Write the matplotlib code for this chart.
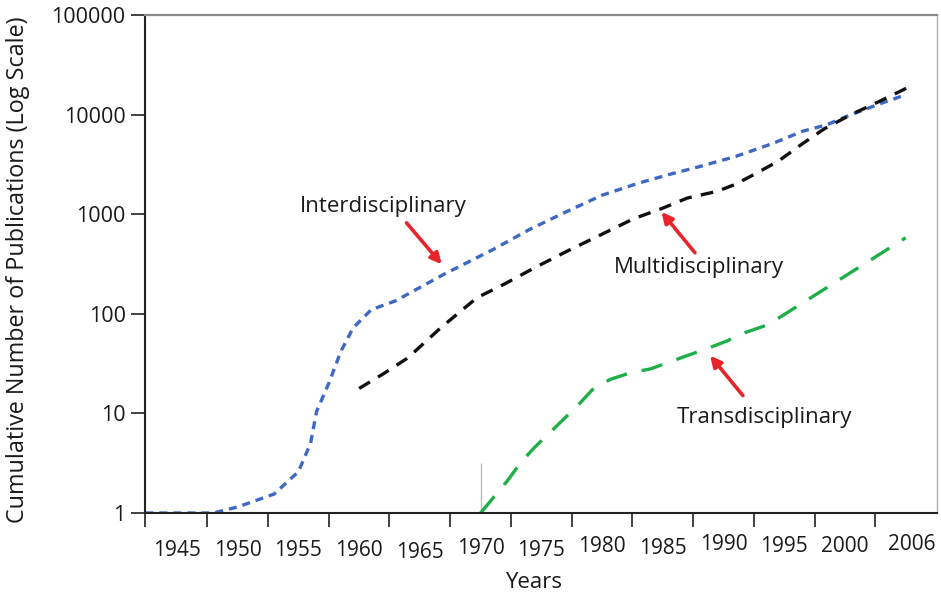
import matplotlib
matplotlib.use("Agg")
import matplotlib.pyplot as plt
import matplotlib.transforms as mtransforms

plt.rcParams['font.family'] = ['Open Sans', 'DejaVu Sans']

# ---- data ----
inter_years = [1942.4, 1948, 1950, 1953, 1955, 1956, 1956.5, 1957.5, 1958.5, 1959.5, 1961,
               1963, 1967, 1971, 1974, 1977, 1980, 1983, 1985.5, 1988, 1991, 1994, 1996.5,
               1998.5, 2000.5, 2003, 2005]
inter_vals = [1, 1, 1.15, 1.55, 2.6, 5, 10.5, 20, 42, 72, 110,
              135, 250, 440, 700, 1050, 1550, 2050, 2500, 3000, 3800, 5100, 6800,
              7900, 10000, 13000, 15800]

multi_years = [1960, 1962, 1964, 1966.7, 1969.7, 1972, 1974.4, 1977.2, 1980, 1982.6, 1985,
               1987, 1989.5, 1991, 1992.5, 1994.5, 1996.4, 1998.3, 2000.5, 2002.8, 2005.1]
multi_vals = [17.8, 25, 36, 72, 145, 200, 288, 430, 630, 900, 1150,
              1450, 1700, 2000, 2500, 3400, 5000, 7200, 10000, 13500, 18500]

trans_years = [1970, 1972.2, 1973.3, 1974.4, 1976.9, 1978, 1979.3, 1980.7, 1982.4, 1984, 1987,
               1988.7, 1990.4, 1991, 1993.7, 1996.4, 1999, 2002, 2005]
trans_vals = [1, 2.1, 3.2, 4.5, 8.9, 12, 17.8, 22, 25.7, 28, 38,
              45, 54, 60, 78, 126, 200, 340, 580]

xtick_years = [1945, 1950, 1955, 1960, 1965, 1970, 1975, 1980, 1985, 1990, 1995, 2000, 2005.5]
xtick_labels = ['1945', '1950', '1955', '1960', '1965', '1970', '1975', '1980', '1985',
                '1990', '1995', '2000', '2006']
ytick_vals = [1, 10, 100, 1000, 10000, 100000]
ytick_labels = ['1', '10', '100', '1000', '10000', '100000']

# ---- figure ----
fig = plt.figure(figsize=(9.41, 5.96), dpi=100)
ax = fig.add_axes([145 / 941, 83 / 596, 792 / 941, 498 / 596])

blue = '#3e68c4'
green = '#1faf48'
red = '#e8232a'
txt = '#1a1a1a'

ax.plot(inter_years, inter_vals, color=blue, lw=2.4, linestyle=(0, (2.4, 1.8)),
        dash_capstyle='butt')
ax.plot(multi_years, multi_vals, color='#111111', lw=2.4, linestyle=(0, (3.8, 2.8)),
        dash_capstyle='butt')
ax.plot(trans_years, trans_vals, color=green, lw=2.4, linestyle=(0, (6.5, 4.5)),
        dash_capstyle='butt')
ax.vlines(1970, 1, 3.2, color='#bdbdbd', lw=1, zorder=1)

ax.set_yscale('log')
ax.set_xlim(1942.37, 2007.58)
ax.set_ylim(1, 100000)

ax.set_yticks(ytick_vals)
ax.set_yticklabels(ytick_labels, fontsize=15.5, color=txt)
ax.yaxis.set_minor_locator(matplotlib.ticker.NullLocator())
ax.tick_params(axis='y', direction='out', length=10, width=1.2, pad=4, color='#222222')

bin_ticks = [1942.37] + [1947.5 + 5 * i for i in range(12)]
ax.set_xticks(bin_ticks)
ax.set_xticklabels([])
ax.tick_params(axis='x', direction='out', length=10, width=1.2, color='#222222')

# staggered year labels (pixel offsets below the axis)
label_drop = [37, 37, 37, 37, 39, 35, 37, 34, 35, 32, 33, 33, 31]
trans = mtransforms.blended_transform_factory(ax.transData, ax.transAxes)
for yr, lab, d in zip(xtick_years, xtick_labels, label_drop):
    ax.text(yr, 0, lab, transform=trans + mtransforms.ScaledTranslation(0, -d / 100, fig.dpi_scale_trans),
            ha='center', va='center', fontsize=15, color=txt)

ax.text(0.5, 0, 'Years', transform=ax.transAxes + mtransforms.ScaledTranslation(-0.07, -0.70, fig.dpi_scale_trans),
        ha='center', va='center', fontsize=16, color=txt)
fig.text(18 / 941, 1 - 270 / 596, 'Cumulative Number of Publications (Log Scale)', rotation=90,
         ha='center', va='center', fontsize=16.8, color=txt)

for s in ['left', 'bottom']:
    ax.spines[s].set_color('#222222')
    ax.spines[s].set_linewidth(1.5)
ax.spines['top'].set_color('#8a8a8a')
ax.spines['top'].set_linewidth(1.6)
ax.spines['right'].set_color('#b0b0b0')
ax.spines['right'].set_linewidth(1.0)

arrow = dict(arrowstyle='-|>', color=red, lw=2.6, mutation_scale=16, shrinkA=0, shrinkB=0)
ax.annotate('', xy=(1966.8, 314), xytext=(1963.9, 819), arrowprops=arrow)
ax.annotate('', xy=(1984.9, 1054), xytext=(1987.65, 410), arrowprops=arrow)
ax.annotate('', xy=(1988.9, 38), xytext=(1991.6, 15.1), arrowprops=arrow)
ax.text(1961.96, 1202, 'Interdisciplinary', ha='center', va='center', fontsize=16, color=txt)
ax.text(1988.0, 290, 'Multidisciplinary', ha='center', va='center', fontsize=16, color=txt)
ax.text(1993.4, 9.2, 'Transdisciplinary', ha='center', va='center', fontsize=16, color=txt)

fig.savefig('out.png', dpi=100)
